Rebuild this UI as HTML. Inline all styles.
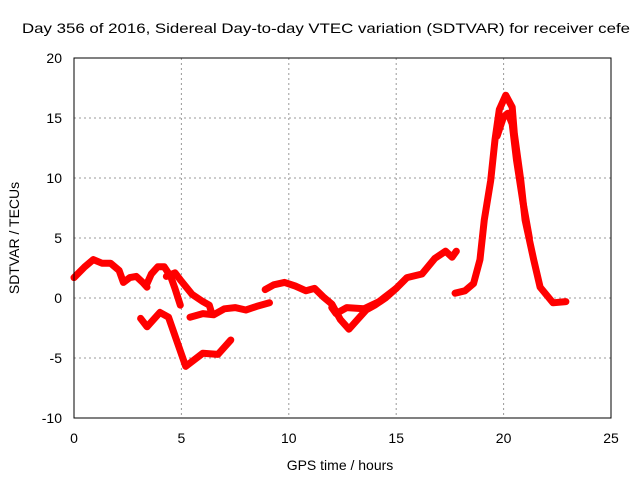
<!DOCTYPE html>
<html><head><meta charset="utf-8"><style>body{margin:0;background:#fff}svg{display:block;font-family:"Liberation Sans",sans-serif}</style></head>
<body>
<svg id="c" width="640" height="480">
<text x="22" y="33" font-size="14" textLength="608" lengthAdjust="spacingAndGlyphs">Day 356 of 2016, Sidereal Day-to-day VTEC variation (SDTVAR) for receiver cefe</text>
<text x="340" y="470" font-size="14" text-anchor="middle">GPS time / hours</text>
<text transform="translate(19,238) rotate(-90)" font-size="14" text-anchor="middle">SDTVAR / TECUs</text>
<g id="grid"></g><g id="series"></g>
<rect x="74" y="58" width="537" height="360" fill="none" stroke="#000"/>
</svg>
<script>
const xTicks=[0,5,10,15,20,25];
const yTicks=[-10,-5,0,5,10,15,20];
const segA_t=[0,0.5,0.9,1.3,1.7,2.1,2.3,2.6,2.9,3.2,3.4];
const segA_v=[1.7,2.6,3.2,2.9,2.9,2.3,1.3,1.7,1.8,1.3,0.9];
const segB_t=[3.4,3.6,3.9,4.2,4.5,4.7,4.95];
const segB_v=[1.2,2.0,2.6,2.6,1.8,0.8,-0.6];
const segC_t=[4.3,4.7,5.0,5.5,6.0,6.3,6.4];
const segC_v=[1.8,2.1,1.4,0.3,-0.3,-0.6,-1.2];
const segD_t=[5.4,6.0,6.5,7.0,7.5,8.0,8.5,9.1];
const segD_v=[-1.6,-1.3,-1.4,-0.9,-0.8,-1.0,-0.7,-0.4];
const segE_t=[3.1,3.4,4.0,4.4,5.2,6.0,6.7,7.3];
const segE_v=[-1.7,-2.4,-1.2,-1.6,-5.7,-4.6,-4.7,-3.5];
const segF_t=[8.9,9.3,9.8,10.3,10.8,11.2,11.6,12.0,12.4,12.8,13.2,13.6,14.0,14.5,15.0];
const segF_v=[0.7,1.1,1.3,1.0,0.6,0.8,0.1,-0.5,-1.8,-2.6,-1.8,-1.0,-0.6,0.0,0.8];
const segG_t=[12.0,12.2,12.7,13.5,14.2,15.0,15.5,16.2,16.8,17.3,17.6,17.8];
const segG_v=[-0.8,-1.3,-0.8,-0.9,-0.3,0.8,1.7,2.0,3.3,3.9,3.4,3.9];
const segH_t=[17.74,18.2,18.6,18.9,19.1,19.4,19.6,19.8,20.1,20.4,20.5,20.8,21.0,21.4,21.7,22.3,22.9];
const segH_v=[0.4,0.6,1.2,3.2,6.5,9.8,13.2,15.7,16.9,15.9,13.7,9.8,6.5,3.2,0.9,-0.4,-0.3];
const segI_t=[19.7,20.0,20.2,20.4,20.6,20.9,21.2];
const segI_v=[13.5,15.1,15.4,14.5,11.5,8.0,5.0];
const X=t=>74+t*537/25, Y=v=>298-v*12;
const NS="http://www.w3.org/2000/svg";
const g=document.getElementById('grid'), s=document.getElementById('series');
function mk(tag,a,p){const e=document.createElementNS(NS,tag);for(const k in a)e.setAttribute(k,a[k]);p.appendChild(e);return e;}
xTicks.forEach(t=>{
 if(t>0&&t<25){const l=mk('line',{x1:X(t),x2:X(t),y1:58,y2:418,stroke:'#999','stroke-dasharray':'2,3'},g);
 
 }
 const tx=mk('text',{x:X(t),y:443,'font-size':14,'text-anchor':'middle'},g);tx.textContent=t;
 
 
});
yTicks.forEach(v=>{
 if(v>-10&&v<20){const l=mk('line',{x1:74,x2:611,y1:Y(v),y2:Y(v),stroke:'#999','stroke-dasharray':'2,3'},g);
 
 }
 const tx=mk('text',{x:62,y:Y(v)+5,'font-size':14,'text-anchor':'end'},g);tx.textContent=v;
 
 
});
[[segA_t,segA_v],[segB_t,segB_v],[segC_t,segC_v],[segD_t,segD_v],[segE_t,segE_v],[segF_t,segF_v],[segG_t,segG_v],[segH_t,segH_v],[segI_t,segI_v]].forEach(([ts,vs])=>{
 const pts=ts.map((t,i)=>X(t)+','+Y(vs[i])).join(' ');
 const p=mk('polyline',{points:pts,fill:'none',stroke:'#f00','stroke-width':7,'stroke-linejoin':'round','stroke-linecap':'round'},s);
 
 
});
</script>
</body></html>
